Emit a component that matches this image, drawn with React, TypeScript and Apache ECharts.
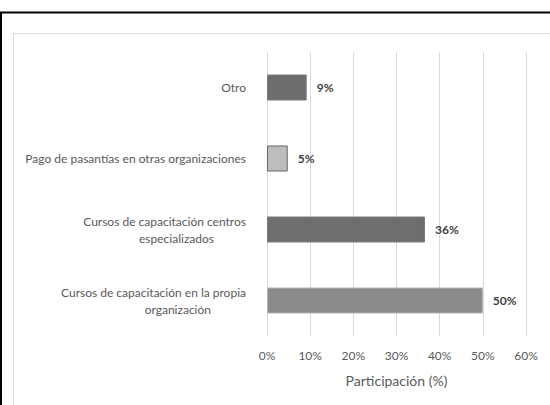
import React, { useEffect, useRef } from "react";
import * as echarts from "echarts";

const categories = [
  "Cursos de capacitación en la propia\norganización",
  "Cursos de capacitación centros\nespecializados",
  "Pago de pasantías en otras organizaciones",
  "Otro",
];
const values = [50, 36.6, 4.8, 9.2];
const valueLabels = ["50%", "36%", "5%", "9%"];
const barColors = ["#8a8a8a", "#6e6e6e", "#bdbdbd", "#6d6d6d"];
const barBorders = ["#b5b5b5", "#7a7a7a", "#666666", "#7a7a7a"];
const xTicks = [0, 10, 20, 30, 40, 50, 60];

const FONT = "Lato";
const LABEL_STYLE = { fontFamily: FONT, fontSize: 12, color: "#595959", lineHeight: 17 };

export default function App() {
  const ref = useRef<HTMLDivElement>(null);
  useEffect(() => {
    if (!ref.current) return;
    const chart = echarts.init(ref.current, undefined, { renderer: "svg" });
    chart.setOption({
      animation: false,
      backgroundColor: "#ffffff",
      graphic: [
        { type: "rect", shape: { x: 13.5, y: 33.5, width: 700, height: 600 }, style: { fill: "none", stroke: "#d9d9d9", lineWidth: 1 }, silent: true, z: -1 },
        { type: "line", shape: { x1: 0, y1: 12.5, x2: 550, y2: 12.5 }, style: { stroke: "#000", lineWidth: 2 }, silent: true },
        { type: "line", shape: { x1: 1, y1: 12, x2: 1, y2: 405 }, style: { stroke: "#000", lineWidth: 2 }, silent: true },
      ],
      grid: { left: 267, right: 24, top: 52, bottom: 69, containLabel: false },
      xAxis: {
        type: "value",
        min: xTicks[0],
        max: xTicks[xTicks.length - 1],
        interval: 10,
        name: "Participación (%)",
        nameLocation: "middle",
        nameGap: 37,
        nameTextStyle: { fontFamily: FONT, fontSize: 14, color: "#595959" },
        axisLine: { show: false },
        axisTick: { show: false },
        axisLabel: { formatter: "{value}%", fontFamily: FONT, fontSize: 12, color: "#595959", margin: 13 },
        splitLine: { show: true, lineStyle: { color: "#d9d9d9", width: 1 } },
      },
      yAxis: {
        type: "category",
        data: categories,
        axisLine: { show: false },
        axisTick: { show: false },
        axisLabel: {
          margin: 21,
          ...LABEL_STYLE,
          formatter: (v: string) => {
            const parts = v.split("\n");
            if (parts.length === 1) return "{a|" + v + "}";
            const key = parts[1] === "organización" ? "b" : "c";
            return "{a|" + parts[0] + "}\n{" + key + "|" + parts[1] + "}";
          },
          rich: {
            a: { ...LABEL_STYLE },
            b: { ...LABEL_STYLE, padding: [0, 35, 0, 0] },
            c: { ...LABEL_STYLE, padding: [0, 32, 0, 0] },
          },
        },
      },
      series: [
        {
          type: "bar",
          barWidth: 26,
          data: values.map((v, i) => ({
            value: v,
            itemStyle: { color: barColors[i], borderColor: barBorders[i], borderWidth: 1 },
          })),
          label: {
            show: true,
            position: "right",
            distance: 10,
            formatter: (p: any) => valueLabels[p.dataIndex],
            fontFamily: FONT,
            fontSize: 12,
            fontWeight: "bold",
            color: "#404040",
          },
        },
      ],
    });
    return () => chart.dispose();
  }, []);
  return (
    <div
      ref={ref}
      style={{ position: "fixed", left: 0, top: 0, width: 550, height: 405, background: "#fff" }}
    />
  );
}
